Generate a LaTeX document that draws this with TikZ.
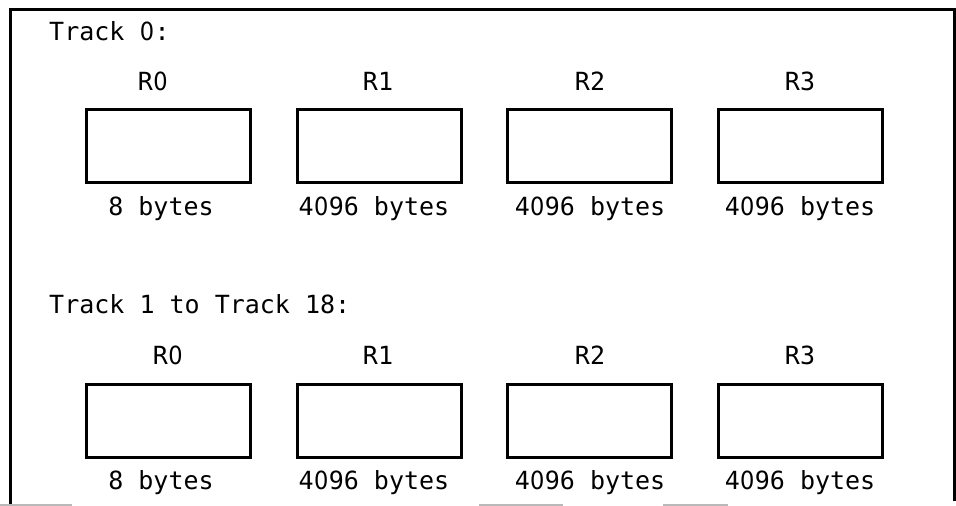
\documentclass[tikz,border=0pt]{standalone}
\usepackage{fontspec}
\newfontfamily\monofont{DejaVu Sans Mono}
\newfontfamily\zerofont[FakeStretch=0.9]{DejaVu Sans}
\newcommand{\zr}{\makebox[0.602em][c]{\zerofont 0}}
\begin{document}
\begin{tikzpicture}[x=1pt,y=-1pt,
  rec/.style={draw=black,line width=3pt,minimum width=164pt,minimum height=73pt,inner sep=0pt},
  lbl/.style={anchor=base,inner sep=0pt,font=\monofont\fontsize{25}{30}\selectfont},
  ttl/.style={anchor=base west,inner sep=0pt,font=\monofont\fontsize{25}{30}\selectfont},
  frame/.style={line width=2.5pt,line cap=rect},
  scan/.style={draw=gray!55,line width=1.5pt}]
\useasboundingbox (0,0) rectangle (956,506);
% frame
\coordinate (fbl) at (10.5,506);
\coordinate (ftl) at (10.5,9.3);
\coordinate (ftr) at (954.5,9.3);
\coordinate (fbr) at (954.5,500);
\draw[frame] (fbl) -- (ftl) -- (ftr) -- (fbr);
% faint bottom scan remnants
\coordinate (s1a) at (0,505); \coordinate (s1b) at (72,505);
\coordinate (s2a) at (479,505); \coordinate (s2b) at (563,505);
\coordinate (s3a) at (663,505); \coordinate (s3b) at (728,505);
\draw[scan] (s1a) -- (s1b);
\draw[scan] (s2a) -- (s2b);
\draw[scan] (s3a) -- (s3b);
% titles
\node[ttl] (title0) at (49,40) {Track \zr:};
\node[ttl] (title1) at (49,313) {Track 1 to Track 18:};
% top row
\node[rec] (ta) at (168.5,146) {};
\node[rec] (tb) at (379,146) {};
\node[rec] (tc) at (589.5,146) {};
\node[rec] (td) at (800,146) {};
\node[lbl] (tra) at (153,90) {R\zr};
\node[lbl] (trb) at (378,90) {R1};
\node[lbl] (trc) at (590,90) {R2};
\node[lbl] (trd) at (800,90) {R3};
\node[lbl] (tsa) at (161,215) {8 bytes};
\node[lbl] (tsb) at (374,215) {4\zr96 bytes};
\node[lbl] (tsc) at (590,215) {4\zr96 bytes};
\node[lbl] (tsd) at (800,215) {4\zr96 bytes};
% bottom row
\node[rec] (ba) at (168.5,420.5) {};
\node[rec] (bb) at (379,420.5) {};
\node[rec] (bc) at (589.5,420.5) {};
\node[rec] (bd) at (800,420.5) {};
\node[lbl] (bra) at (168,364) {R\zr};
\node[lbl] (brb) at (378,364) {R1};
\node[lbl] (brc) at (590,364) {R2};
\node[lbl] (brd) at (800,364) {R3};
\node[lbl] (bsa) at (161,489) {8 bytes};
\node[lbl] (bsb) at (374,489) {4\zr96 bytes};
\node[lbl] (bsc) at (590,489) {4\zr96 bytes};
\node[lbl] (bsd) at (800,489) {4\zr96 bytes};
\end{tikzpicture}
\end{document}
